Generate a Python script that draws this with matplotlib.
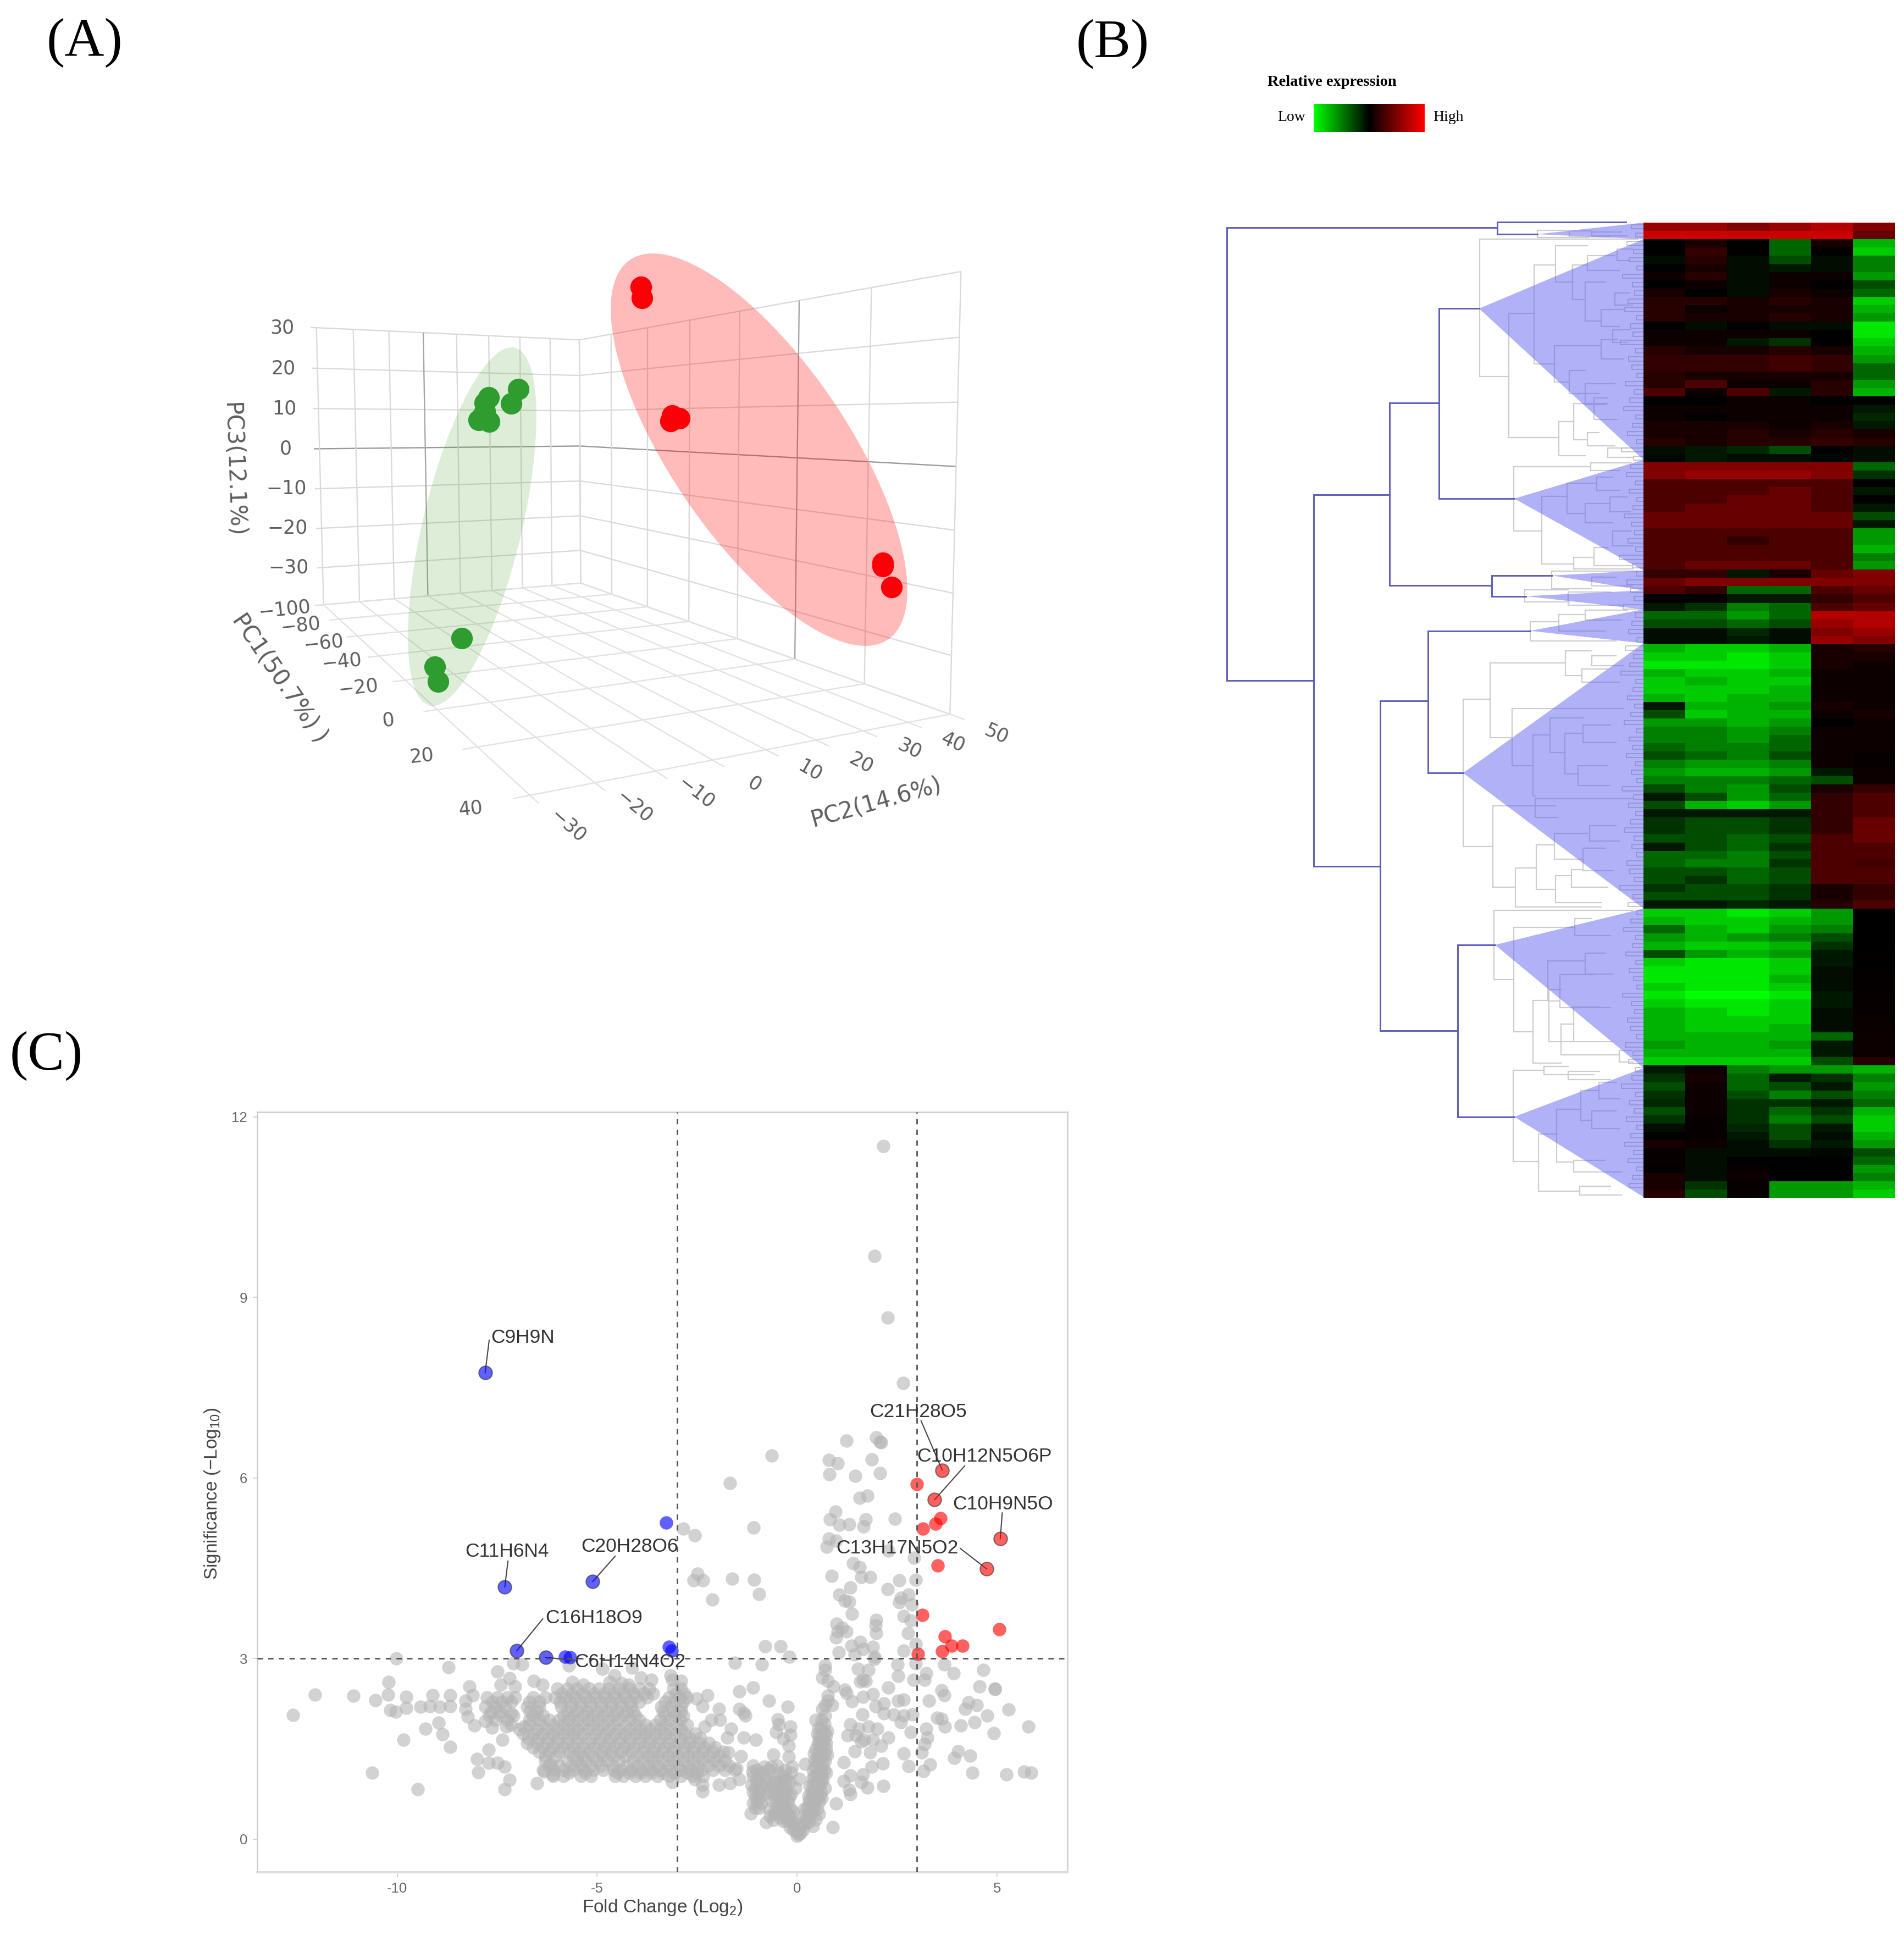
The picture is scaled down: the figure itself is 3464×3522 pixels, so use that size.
"""Three-panel figure: (A) PCA score plot, (B) clustered heat map, (C) volcano plot."""

import matplotlib

matplotlib.use("Agg")
import matplotlib.pyplot as plt
import numpy as np
from matplotlib.colors import LinearSegmentedColormap
from matplotlib.patches import Ellipse, Polygon

WIDTH, HEIGHT = 3464, 3522
DPI = 100
SANS = "Liberation Sans"
SERIF = "Liberation Serif"
PCA_FONT = "DejaVu Sans"

plt.rcParams["mathtext.fontset"] = "custom"
plt.rcParams["mathtext.rm"] = SANS
plt.rcParams["mathtext.default"] = "rm"

# ---- panel A: the box as (PC1, PC2, PC3) -> position on the picture plane
cam_world = [
    (-100, -30, -39.5), (-100, -30, 30), (-100, -30, 0),
    (-100, 50, -39.5), (-100, 50, 30), (-100, 50, 0),
    (40, 50, -39.5), (40, 50, 30), (40, 50, 0),
    (40, -30, -39.5),
]
cam_plane = [
    (591, 1100), (575, 597), (580, 815),
    (1055, 1062), (1055, 618), (1055, 811),
    (1729, 1299), (1749, 497), (1739, 845),
    (963, 1448),
]
pc1_ticks = [-100, -80, -60, -40, -20, 0, 20, 40]
pc2_ticks = [-30, -20, -10, 0, 10, 20, 30, 40, 50]
pc3_ticks = [-30, -20, -10, 0, 10, 20, 30]

# samples as read on the picture plane
green_x = [943, 930, 889, 882, 871, 890, 882, 840, 791, 797]
green_y = [708, 734, 723, 733, 764, 767, 748, 1161, 1213, 1240]
red_x = [1166, 1168, 1220, 1236, 1223, 1606, 1622, 1606]
red_y = [522, 542, 766, 761, 756, 1030, 1068, 1024]
red_ellipse = (1381, 818, 835, 322, 55.8)
green_ellipse = (859, 958, 669, 180, -76.6)

# ---- panel B: heat map rows, one named block per cluster
heat_top = [
    [6, 6, 5, 6, 7, 5],
    [8, 8, 8, 8, 8, 4],
]
heat_dark_green_end = [
    [0, 1, 0, -4, 1, -7],
    [0, 2, 0, -4, 0, -8],
    [-.5, 1.5, -.5, -3, -.5, -5],
    [0, 1, -.5, -1, -.5, -5],
    [.5, 1.5, -.5, .5, .5, -6],
    [0, .5, -.5, .5, 0, -3],
    [1, 0, -.5, 1, .5, -4],
    [1.5, 1.5, 1, 1.5, 1, -8],
    [1.5, .5, 1, 1, 1, -7],
    [1.5, 1, 1, 1.5, 1, -6],
    [0, -.5, 0, -.5, -.5, -9],
    [.5, .5, .5, .5, 0, -9],
    [.5, .5, -1, -2, 0, -8],
    [1.5, 1, 1, 1.5, 1, -7],
    [2, 2, 2, 2.5, 2, -6],
    [2, 2, 2, 2.5, 2, -4],
    [1.5, 1, 1, 1, 1, -4],
    [1.5, 3, .5, .5, 1.5, -6],
    [3, .5, 3, -1, 1.5, -7],
]
heat_black = [
    [0, 0, .5, .5, 0, 0],
    [.5, .5, .5, .5, .5, -1],
    [.5, 0, .5, .5, .5, -1.5],
    [1, 1, 1, .5, 1, -1],
    [1, 1, 1.5, 1, 1.5, 1],
    [1.5, 1, 1.5, 1.5, 2, 1.5],
    [-.5, -1, -1.5, -3, 0, -.5],
    [-.3, -1, -.5, -.5, -.3, -.5],
]
heat_dark_red = [
    [5, 5, 5, 5, 5, -4],
    [5, 6, 6, 6, 5, -2],
    [3, 3, 3, 3, 3, 0],
    [3, 3, 3, 4, 3, -1],
    [3, 3, 4, 4, 3, 0],
    [3, 4, 4, 4, 3, -1],
    [4, 4, 4, 4, 4, -3],
    [4, 4, 4, 4, 4, -1],
    [3, 3, 3, 3, 3, -6],
    [3, 3, 2, 3, 3, -6],
    [3, 3, 3, 3, 3, -7],
    [3, 3, 3, 3, 3, -5],
    [3, 4, 4, 4, 3, -6],
]
heat_red_blobs = [
    [2, 2, -1, 1, 4, 5],
    [4, 5, 5, 5, 5, 5],
    [3, 2, -4, -4, 3, 4],
    [0, 0, -1, -1, 2, 3],
    [-1, -2, -5, -4, 3, 4],
]
heat_green_red = [
    [-4, -4, -6, -4, 7, 7],
    [-3, -3, -4, -3, 6, 7],
    [-.5, -.5, -1.5, -.5, 5, 6],
    [-.5, -.5, -1, -.5, 6, 5],
]
heat_bright = [
    [-7, -8, -8, -7, 1, 1.5],
    [-8, -8, -9, -8, 1, 1],
    [-9, -9, -9, -8, 1, .5],
    [-7, -8, -8, -7, .5, .5],
    [-8, -7, -8, -8, .5, .5],
    [-8, -8, -8, -7, .5, .5],
    [-7, -8, -7, -7, .5, .5],
]
heat_mixed = [
    [-1, -7, -7, -6, 1, .5],
    [-3, -8, -7, -7, .5, 1],
    [-6, -6, -7, -6, 0, .5],
    [-5, -5, -6, -5, .5, .5],
    [-5, -5, -6, -4, .5, .5],
    [-4, -5, -5, -4, .5, .5],
    [-3, -4, -5, -3, .5, .3],
    [-5, -6, -6, -5, .5, .3],
    [-6, -7, -7, -6, -1, .5],
    [-5, -5, -5, -4, -3, .5],
    [-3, -5, -6, -3, 1, 2],
    [-1, -3, -6, -4, 2, 3],
    [-3, -7, -8, -6, 2, 3],
    [-1, -1, -1, -1, 2, 3],
]
heat_dark_green = [
    [-2, -3, -3, -2, 2, 4],
    [-2, -3, -3, -2, 2, 4],
    [-3, -3, -4, -3, 3, 4],
    [-1, -3, -4, -2, 3, 3],
    [-4, -4, -5, -3, 3, 3],
    [-4, -5, -5, -2, 3, 2.5],
    [-3, -3, -4, -3, 3, 3],
    [-3, -2, -4, -3, 3, 3],
    [-2, -3, -3, -2, 1, 2],
    [-3, -3, -3, -2, 1, 2],
    [-1, -1, -1.5, -1, 1.5, 3],
]
heat_bright_2 = [
    [-8, -8, -9, -8, -6, 0],
    [-7, -8, -8, -7, -6, 0],
    [-4, -7, -8, -6, -5, 0],
    [-6, -7, -6, -5, -3, 0],
    [-7, -8, -8, -7, -2, 0],
    [-3, -6, -7, -6, -1, .2],
    [-8, -9, -9, -8, -1, 0],
    [-9, -9, -9, -8, -.5, .1],
    [-9, -9, -9, -7, -.5, .2],
    [-8, -9, -9, -8, -.5, .2],
    [-9, -10, -10, -9, -1, .3],
    [-8, -9, -9, -8, -1, .3],
    [-7, -8, -9, -8, -.5, .3],
    [-7, -8, -8, -8, -.5, .4],
    [-7, -8, -8, -7, -.5, .4],
    [-7, -7, -7, -7, -4, .5],
    [-6, -7, -7, -6, -1, .5],
    [-7, -7, -7, -7, -1, .5],
    [-8, -8, -8, -8, -3, 1.5],
]
heat_bottom = [
    [-1, .5, -5, -6, -6, -7],
    [-2, 1, -4, -1, -2, -5],
    [-3, .5, -4, -3, -1, -6],
    [-2, .5, -3, -5, -3, -5],
    [-1.5, .5, -2, -2, -1, -4],
    [-3, .5, -2, -4, -2, -7],
    [-2, .3, -2, -5, -3, -8],
    [-.5, .3, -1.5, -3, -1, -8],
    [0, .3, -1, -3, -.5, -7],
    [1, .5, -.5, -2, -1, -6],
    [.3, -.5, -.5, -.5, -.3, -3],
    [.3, -.5, 0, 0, 0, -4],
    [.2, -.5, .3, 0, 0, -6],
    [1, -.5, .5, 0, 0, -5],
    [1, -2, .3, -6, -6, -7],
    [1.5, -3, .3, -6, -6, -8],
]
heat_blocks = [
    heat_top, heat_dark_green_end, heat_black, heat_dark_red, heat_red_blobs,
    heat_green_red, heat_bright, heat_mixed, heat_dark_green, heat_bright_2,
    heat_bottom,
]

# dendrogram merges: (height, top row, bottom row, top arm reach, bottom arm reach)
tree_main = [
    (758, .57, 55.4, 266, 600),
    (266, -.07, 1.4, 32, 193),
    (600, 32.9, 77.9, 462, 479),
    (462, 21.8, 43.9, 372, 276),
    (372, 10.4, 33.4, 299, 235),
    (276, 42.7, 45.2, 167, 214),
    (479, 57.9, 97.8, 392, 338),
    (392, 49.4, 66.6, 206, 328),
    (338, 87.4, 108.2, 270, 235),
]
# collapsed clusters: (apex height, apex row, first row, last row)
tree_triangles = [
    (193, 1.4, 0, 2),
    (299, 10.4, 2, 28.7),
    (235, 33.4, 28.7, 42.1),
    (167, 42.7, 42.1, 44.5),
    (214, 45.2, 44.5, 46.8),
    (206, 49.4, 46.8, 50.9),
    (328, 66.6, 50.9, 83),
    (270, 87.4, 83, 102.3),
    (235, 108.2, 102.3, 117.9),
]
tree_sub_1 = [
    (298, 2.0, 18.6, 11, 245), (245, 11, 26, 199, 154), (199, 5.1, 17.1, 160, 162),
    (160, 2.8, 7.2, 102, 129), (162, 14.9, 19.3, 77, 135), (154, 24.1, 28.2, 127, 106),
    (127, 21.9, 26.3, 65, 102), (129, 5.1, 9.3, 102, 106), (106, 7.2, 11.9, 69, 77),
    (77, 10.5, 12.6, 36, 44), (135, 17.9, 20.7, 106, 81), (106, 19.5, 22, 52, 69),
    (90, 21.2, 23.8, 65, 48), (102, 25.4, 27, 81, 52), (65, 27.3, 28.4, 30, 19),
    (102, 4, 5.8, 52, 44), (77, 14.2, 16.5, 48, 36), (52, 8.5, 10, 25, 20),
    (56, 13, 14.5, 24, 30), (48, 3.2, 4.6, 20, 25),
]
tree_sub_2 = [
    (236, 29.5, 37.3, 96, 185), (185, 33.1, 41.3, 139, 127), (139, 31.5, 35.2, 85, 106),
    (96, 29.1, 30, 23, 44), (106, 34, 36.3, 61, 56), (85, 30.8, 32.4, 56, 44),
    (127, 40.5, 41.9, 90, 19), (90, 39.3, 41.5, 65, 19), (56, 37.3, 39.1, 23, 19),
    (61, 33.2, 35, 30, 24),
]
tree_sub_small = [
    (193, .9, 1.8, 135, 100), (135, 1.0, 1.7, 94, 60), (94, 1.1, 1.6, 40, 30),
    (167, 42.2, 44.3, 11, 94), (94, 42.9, 44, 50, 20),
    (216, 44.4, 45.9, 137, 135), (137, 44.7, 46.3, 60, 40),
    (206, 48.3, 50.6, 154, 50), (154, 47.4, 49.4, 106, 70), (106, 46.9, 48.1, 30, 40),
]
tree_sub_3 = [
    (328, 57.7, 75.5, 279, 274), (279, 53.3, 62.3, 142, 239), (142, 51.8, 54.8, 94, 112),
    (239, 58.8, 65.7, 36, 201), (201, 62, 69.4, 170, 197), (170, 59.9, 64.1, 110, 143),
    (197, 69.7, 72, 19, 156), (143, 61.8, 66.7, 110, 119), (110, 60.8, 62.9, 60, 50),
    (119, 65.7, 68.1, 65, 60), (274, 70.6, 80.4, 160, 233), (233, 78.1, 82.8, 195, 77),
    (195, 75.3, 80.7, 162, 160), (160, 79, 82.3, 131, 77), (162, 73.9, 77, 102, 110),
    (98, 72.98, 74.8, 50, 44), (131, 78.3, 80.4, 110, 65), (110, 75.7, 78.4, 70, 56),
    (94, 52.4, 53.6, 50, 36), (112, 54, 55.6, 65, 44),
]
tree_sub_4 = [
    (272, 83.2, 91.6, 19, 236), (236, 85.3, 97.9, 125, 201), (125, 84.2, 86.3, 94, 60),
    (174, 89.3, 94.2, 106, 152), (201, 94.1, 101.7, 172, 150), (172, 92.8, 99.1, 150, 127),
    (150, 97, 100.7, 127, 44), (127, 94.9, 99.1, 81, 56), (106, 88.4, 90.9, 69, 56),
    (152, 91, 95, 90, 60), (44, 100.2, 101.6, 22, 18),
]
tree_sub_5 = [
    (237, 102.6, 113.6, 181, 191), (181, 102.1, 103.1, 137, 90), (137, 102.7, 103.7, 80, 60),
    (191, 110.3, 117.2, 158, 116), (158, 107.3, 113.7, 114, 127), (116, 116.6, 117.7, 60, 40),
    (127, 113.5, 114.9, 70, 40), (114, 105, 108.6, 81, 94), (94, 107.5, 109.6, 50, 44),
    (81, 104, 106, 50, 44),
]
leaf_heights = [
    22, 14, 30, 18, 26, 12, 38, 20, 16, 28, 34, 13, 24, 19, 42, 15, 27, 21, 12, 33,
    17, 25, 36, 14, 20, 29, 13, 40, 18, 23, 31, 15, 26, 12, 19, 35, 22, 16, 28, 14,
    44, 20, 13, 30, 24, 17, 37, 15, 21, 27, 12, 33, 18, 25, 41, 14, 19, 29, 16, 23,
    35, 13, 26, 20, 31, 15, 22, 12, 39, 18, 27, 14, 24, 34, 17, 21, 13, 30, 25, 16,
    43, 19, 28, 12, 23, 36, 15, 20, 32, 14, 26, 18, 12, 38, 22, 16, 29, 24, 13, 33,
    19, 27, 15, 21, 40, 14, 25, 17, 31, 12, 23, 35, 18, 28, 13, 20, 26,
]

# ---- panel C: volcano plot
volcano_upper = [
    (2.15, 11.51), (1.93, 9.69), (2.27, 8.66), (2.65, 7.58), (1.23, 6.62), (1.98, 6.67),
    (2.10, 6.59), (2.07, 6.60), (-.63, 6.37), (.79, 6.30), (1.02, 6.24), (1.87, 6.31),
    (.81, 6.06), (1.45, 6.03), (2.07, 6.08), (-1.68, 5.92), (1.56, 5.67), (1.75, 5.71),
    (.96, 5.44), (.82, 5.31), (1.72, 5.31), (2.45, 5.32), (1.05, 5.22), (1.30, 5.23),
    (1.66, 5.19), (-2.85, 5.16), (-2.56, 5.05), (-1.09, 5.18), (.79, 4.99), (.74, 4.86),
    (.98, 4.96), (1.40, 4.58), (1.56, 4.52), (2.28, 4.79), (2.93, 4.67), (.86, 4.37),
    (1.61, 4.35), (1.82, 4.35), (2.55, 4.30), (2.96, 4.31), (-2.49, 4.41), (-2.58, 4.30),
    (-2.35, 4.30), (-1.63, 4.33), (-1.07, 4.31), (1.33, 4.18), (2.27, 4.15), (-.95, 4.07),
    (-2.12, 3.98), (1.05, 4.06), (1.19, 3.96), (1.30, 3.94), (2.79, 4.06), (2.59, 4.01),
    (2.56, 3.93), (2.87, 3.90), (1.37, 3.74), (2.67, 3.71), (2.84, 3.63), (1.98, 3.64),
    (1.96, 3.55), (.99, 3.58), (1.12, 3.51), (1.23, 3.45), (.98, 3.35), (1.02, 3.45),
    (1.98, 3.42), (2.77, 3.42), (1.36, 3.21), (1.58, 3.28), (1.65, 3.16), (1.89, 3.19),
    (2.96, 3.24), (-.80, 3.20), (-.42, 3.20), (-.19, 3.03), (1.04, 3.10), (1.44, 3.07),
    (2.66, 3.13), (1.93, 3.03),
]
volcano_right = [
    (-1.56, 2.93), (-.88, 2.90), (3.68, 2.90), (3.91, 2.76), (4.66, 2.81), (.70, 2.88),
    (.70, 2.81), (.63, 2.68), (.77, 2.63), (.91, 2.54), (2.51, 2.90), (2.53, 2.71),
    (2.96, 2.92), (3.23, 2.76), (3.19, 2.65), (2.91, 2.65), (1.53, 2.83), (1.79, 2.81),
    (1.93, 2.99), (1.65, 2.65), (1.72, 2.63), (1.58, 2.62), (2.28, 2.52), (3.61, 2.47),
    (3.68, 2.39), (4.56, 2.54), (4.94, 2.50), (4.95, 2.49), (1.19, 2.48), (1.23, 2.43),
    (-1.44, 2.45), (-1.10, 2.52), (-.71, 2.30), (-.24, 2.20), (-2.52, 2.34), (-2.24, 2.39),
    (-2.37, 2.21), (-1.96, 2.16), (-1.44, 2.16), (-1.33, 2.10), (-1.30, 2.05), (.77, 2.30),
    (.70, 2.23), (.88, 2.23), (.63, 2.16), (.77, 2.38), (1.65, 2.36), (1.89, 2.41),
    (1.37, 2.29), (1.96, 2.21), (2.17, 2.25), (2.52, 2.30), (2.66, 2.32), (3.30, 2.30),
    (1.63, 2.07), (2.17, 2.09), (2.42, 2.07), (2.66, 2.05), (2.88, 2.07), (2.59, 1.94),
    (4.28, 2.27), (4.21, 2.16), (4.49, 2.23), (5.29, 2.15), (4.75, 2.05), (3.61, 2.0),
    (3.50, 2.02), (4.44, 1.94), (3.70, 1.87), (4.09, 1.89), (5.78, 1.87), (4.92, 1.76),
    (3.23, 1.83), (3.26, 1.69), (2.84, 1.78), (3.19, 1.58), (1.33, 1.91), (1.54, 1.83),
    (1.79, 1.87), (2.0, 1.83), (2.28, 1.69), (1.68, 1.65), (1.47, 1.72), (1.89, 1.65),
    (2.10, 1.55), (1.44, 1.46), (1.82, 1.44), (1.26, 1.72), (1.61, 1.62), (2.66, 1.42),
    (3.12, 1.44), (4.03, 1.46), (3.93, 1.35), (4.33, 1.39), (2.79, 1.21), (3.33, 1.24),
    (3.16, 1.13), (2.14, 1.26), (1.86, 1.2), (1.16, 1.28), (4.38, 1.10), (5.24, 1.08),
    (5.67, 1.12), (5.85, 1.10), (1.33, 1.06), (1.65, 1.08), (1.16, .97), (1.30, .82),
    (1.33, .75), (1.60, .95), (1.75, .86), (2.15, .88), (.98, .59), (.89, .2),
    (-.49, 1.99), (-.45, 1.91), (-.17, 1.87), (-.53, 1.78), (-.17, 1.73), (-.35, 1.67),
    (-.21, 1.55), (-.60, 1.40), (-.21, 1.37), (.46, 1.98), (-1.33, 1.69), (-1.03, 1.65),
    (-1.65, 1.83), (-2.31, 1.87), (-2.14, 1.98), (-1.93, 1.98), (-1.75, 1.69), (-1.40, 1.38),
    (-1.72, 1.44), (-1.51, 1.18), (-1.44, .99), (-1.68, .93), (-1.96, .90), (-2.37, .79),
    (-2.56, .99), (-3.12, .95),
]
volcano_v_shape = [
    (0, .05), (.08, .1), (.15, .15), (.1, .25), (.22, .27), (.3, .28), (.18, .4), (.3, .38),
    (.4, .45), (.47, .33), (.25, .52), (.38, .55), (.5, .5), (.3, .65), (.45, .68), (.55, .62),
    (.35, .78), (.48, .8), (.6, .78), (.4, .9), (.52, .95), (.62, .95), (.42, 1.05), (.55, 1.08),
    (.65, 1.0), (.45, 1.2), (.58, 1.22), (.68, 1.15), (.5, 1.35), (.62, 1.38), (.7, 1.3),
    (.47, 1.5), (.58, 1.52), (.72, 1.5), (.55, 1.62), (.68, 1.65), (.6, 1.72), (.72, 1.72),
    (.5, 1.75), (.6, 1.85), (.75, 1.8), (.62, 1.98), (.7, 2.05),
    (-.02, .12), (-.1, .15), (-.18, .2), (-.08, .28), (-.25, .3), (-.35, .3), (-.15, .38),
    (-.42, .35), (-.28, .45), (-.4, .48), (-.15, .5), (-.5, .55), (-.35, .6), (-.22, .62),
    (-.45, .7), (-.3, .75), (-.55, .68), (-.5, .85), (-.35, .9), (-.28, .82), (-1.16, .43),
    (-.77, .28), (-1.1, 1.22), (-1.0, 1.15), (-1.1, 1.05), (-.95, 1.05), (-1.0, .92),
    (-1.15, .9), (-.9, .9), (-1.1, .78), (-.98, .75), (-1.0, .62), (-1.1, .6), (-.9, .6),
    (-.85, .75), (-.78, 1.0), (-.72, 1.15), (-.6, 1.05), (-.45, 1.1), (-.3, 1.15), (-.15, 1.1),
    (-.72, .8), (-.6, .85), (-.65, .65), (-.55, .45), (-.7, .5), (-.15, .75), (-.05, .85),
    (-.25, 1.0), (.05, 1.0), (.2, 1.25),
]
volcano_v_dense = [
    (.04, .08), (.12, .22), (.2, .33), (.28, .42), (.35, .48), (.42, .58), (.18, .5), (.3, .58),
    (.38, .72), (.5, .72), (.58, .72), (.28, .72), (.42, .82), (.55, .88), (.32, .88), (.46, .95),
    (.6, 1.0), (.38, 1.0), (.5, 1.1), (.62, 1.1), (.4, 1.15), (.52, 1.28), (.65, 1.25), (.44, 1.3),
    (.55, 1.42), (.68, 1.42), (.42, 1.42), (.52, 1.58), (.65, 1.55), (.62, 1.62), (.55, 1.7),
    (.68, 1.78), (.54, 1.85), (.68, 1.92), (.72, 1.6), (.75, 1.4), (.72, 1.1), (.7, .85),
    (.62, .68), (.55, .42), (.4, .22),
    (-.06, .2), (-.14, .28), (-.22, .38), (-.32, .38), (-.1, .45), (-.3, .55), (-.42, .58),
    (-.55, .42), (-.2, .7), (-.38, .8), (-.48, .75), (-.6, .75), (-.42, .95), (-.55, .95),
    (-.3, .98), (-.68, .95), (-.82, .88), (-.92, .8), (-1.05, .85), (-1.05, .7), (-.95, .68),
    (-1.05, .52), (-.95, .52), (-1.12, 1.12), (-1.02, 1.0), (-.88, 1.1), (-.82, 1.2), (-.65, 1.2),
    (-.5, 1.22), (-.35, 1.05), (-.18, .95), (-.12, 1.2), (-.68, .38), (-.6, .32),
]
volcano_left = [
    (-10.02, 3.0), (-8.71, 2.86), (-7.5, 2.78), (-7.09, 2.92), (-6.88, 2.9), (-10.21, 2.61),
    (-8.2, 2.54), (-7.19, 2.67), (-7.41, 2.56), (-7.06, 2.54), (-6.58, 2.63), (-6.36, 2.56),
    (-5.7, 2.88), (-5.63, 2.61), (-4.87, 2.83), (-4.56, 2.72), (-4.69, 2.61), (-5.35, 2.56),
    (-4.12, 2.85), (-3.9, 2.68), (-3.64, 2.65), (-4.39, 2.59), (-4.21, 2.56), (-3.16, 2.72),
    (-2.9, 2.63), (-3.12, 2.65), (-12.05, 2.40), (-11.09, 2.38), (-10.54, 2.31), (-10.23, 2.40),
    (-9.78, 2.36), (-9.12, 2.39), (-8.68, 2.39), (-8.11, 2.39), (-12.6, 2.06), (-10.17, 2.14),
    (-10.04, 2.12), (-9.78, 2.18), (-9.42, 2.2), (-9.19, 2.21), (-8.93, 2.2), (-8.68, 2.21),
    (-8.29, 2.3), (-8.29, 2.16), (-9.29, 1.83), (-8.96, 1.93), (-8.87, 1.74), (-9.85, 1.65),
    (-8.68, 1.53), (-8.24, 2.03), (-8.07, 1.89), (-7.8, 1.96), (-7.63, 1.85), (-7.72, 1.49),
    (-7.37, 1.65), (-7.28, 1.87), (-7.15, 2.09), (-6.84, 1.87), (-8, 1.33), (-7.72, 1.27),
    (-7.5, 1.27), (-7.32, 1.2), (-7.98, 1.11), (-10.63, 1.10), (-7.19, .98), (-7.32, .83),
    (-9.49, .83), (-6.51, .93), (-6.33, 1.12), (-6.14, 1.24), (-6.1, 1.08), (-2.37, .9),
]
blob_levels = [2.5, 2.35, 2.2, 2.05, 1.9, 1.75, 1.6, 1.45, 1.3, 1.15, 1.05]
blob_rows = [
    [-6.0, -5.75, -5.5, -5.2, -4.95, -4.7, -4.45, -4.2, -3.95, -3.7, -3.1, -2.9],
    [-7.75, -7.5, -7.25, -7.05, -6.6, -6.3, -6.05, -5.8, -5.55, -5.3, -5.05, -4.8, -4.55, -4.3,
     -4.05, -3.75, -3.2, -2.95, -2.75],
    [-7.8, -7.55, -7.3, -6.75, -6.45, -5.9, -5.65, -5.4, -5.15, -4.9, -4.65, -4.4, -4.15, -3.4,
     -3.15, -2.9],
    [-7.7, -7.4, -7.1, -6.6, -6.35, -5.85, -5.6, -5.35, -5.1, -4.85, -4.6, -4.35, -4.05, -3.3,
     -3.05, -2.85],
    [-7.15, -6.7, -6.4, -6.1, -5.85, -5.6, -5.35, -5.1, -4.85, -4.6, -4.3, -4.05, -3.8, -3.55,
     -3.3, -3.0, -2.75],
    [-6.85, -6.6, -6.35, -6.1, -5.85, -5.6, -5.35, -5.05, -4.8, -4.55, -4.3, -4.05, -3.8, -3.55,
     -3.3, -3.05, -2.8, -2.55],
    [-6.75, -6.5, -6.25, -6, -5.75, -5.5, -5.2, -4.95, -4.7, -4.45, -4.2, -3.95, -3.7, -3.45,
     -3.2, -2.95, -2.7, -2.45, -2.2],
    [-6.45, -6.2, -5.95, -5.7, -5.45, -5.2, -4.9, -4.65, -4.4, -4.15, -3.85, -3.6, -3.35, -3.1,
     -2.85, -2.6, -2.35, -2.1, -1.85],
    [-6.3, -5.75, -5.5, -5.3, -5.0, -4.75, -4.45, -4.1, -3.85, -3.6, -3.35, -3.1, -2.85, -2.6,
     -2.35, -2.05, -1.8],
    [-6.35, -6.1, -5.85, -5.6, -5.35, -5.1, -4.85, -4.6, -4.4, -4.15, -3.9, -3.65, -3.4, -3.15,
     -2.9, -2.65, -2.4, -2.1, -1.8, -1.55],
    [-6.1, -5.85, -5.4, -5.15, -4.55, -4.35, -4.05, -3.8, -3.5, -3.2, -2.9, -2.6, -2.35],
]
blob_levels_mid = [2.42, 2.28, 2.12, 1.98, 1.82, 1.68, 1.52, 1.38, 1.22, 1.1]
blob_rows_mid = [
    [-5.88, -5.63, -5.35, -5.08, -4.82, -4.58, -4.33, -4.08, -3.82, -3.6, -3.02, -2.82],
    [-7.62, -7.38, -7.15, -6.7, -6.45, -5.92, -5.68, -5.42, -5.18, -4.92, -4.68, -4.42, -4.18,
     -3.95, -3.3, -3.08, -2.85],
    [-7.65, -7.42, -6.68, -6.5, -5.75, -5.5, -5.25, -5.0, -4.75, -4.5, -4.25, -4.1, -3.35, -3.1,
     -2.9],
    [-7.55, -7.25, -6.7, -6.45, -6.2, -5.95, -5.72, -5.48, -5.22, -4.98, -4.72, -4.48, -4.2,
     -3.95, -3.42, -3.18, -2.92],
    [-6.95, -6.52, -6.25, -5.98, -5.72, -5.48, -5.22, -4.98, -4.72, -4.45, -4.18, -3.92, -3.68,
     -3.42, -3.18, -2.9],
    [-6.72, -6.48, -6.22, -5.98, -5.72, -5.48, -5.2, -4.92, -4.68, -4.42, -4.18, -3.92, -3.68,
     -3.42, -3.18, -2.92, -2.68, -2.42],
    [-6.6, -6.35, -6.1, -5.85, -5.6, -5.35, -5.08, -4.82, -4.58, -4.32, -4.08, -3.82, -3.58,
     -3.32, -3.08, -2.82, -2.58, -2.32, -2.05],
    [-6.3, -6.05, -5.6, -5.35, -5.1, -4.85, -4.6, -4.3, -4.0, -3.72, -3.48, -3.22, -2.98, -2.72,
     -2.48, -2.2, -1.95],
    [-6.2, -5.95, -5.62, -5.4, -5.15, -4.9, -4.6, -4.25, -3.98, -3.72, -3.48, -3.22, -2.98,
     -2.72, -2.48, -2.22, -1.95, -1.7],
    [-5.7, -5.3, -4.5, -4.2, -3.92, -3.65, -3.35, -3.05, -2.75, -2.5],
]
# significant metabolites without a label
down_x = [-5.80, -5.68, -3.28, -3.21, -3.14]
down_y = [3.03, 3.02, 5.26, 3.19, 3.13]
up_x = [2.99, 3.58, 3.46, 3.15, 3.51, 3.13, 5.06, 3.69, 3.86, 4.14, 3.63, 3.02]
up_y = [5.90, 5.33, 5.24, 5.16, 4.55, 3.72, 3.49, 3.37, 3.21, 3.21, 3.12, 3.08]
# labelled ones: name, x, y, text x, text y, leader x, leader y
labelled_down = [
    ("C9H9N", -7.80, 7.75, -7.65, 8.33, -7.70, 8.29),
    ("C11H6N4", -7.31, 4.19, -8.30, 4.78, -7.23, 4.62),
    ("C20H28O6", -5.11, 4.28, -5.40, 4.86, -4.55, 4.70),
    ("C16H18O9", -7.01, 3.13, -6.30, 3.67, -6.36, 3.66),
    ("C6H14N4O2", -6.29, 3.02, -5.57, 2.94, -5.57, 2.97),
]
labelled_up = [
    ("C21H28O5", 3.63, 6.13, 1.82, 7.10, 3.10, 6.95),
    ("C10H12N5O6P", 3.44, 5.64, 3.00, 6.36, 4.19, 6.20),
    ("C10H9N5O", 5.08, 4.99, 3.89, 5.56, 5.13, 5.42),
    ("C13H17N5O2", 4.74, 4.49, 0.97, 4.83, 4.08, 4.83),
]


def add_axes_px(fig, left, top, right, bottom):
    return fig.add_axes(
        [left / WIDTH, 1 - bottom / HEIGHT, (right - left) / WIDTH, (bottom - top) / HEIGHT]
    )


def fig_text(fig, x, y, s, **kw):
    fig.text(x / WIDTH, 1 - y / HEIGHT, s, **kw)


def fit_camera(world, plane):
    rows = []
    for (X, Y, Z), (u, v) in zip(world, plane):
        X, Y, Z, u, v = X / 100, Y / 100, Z / 100, u / 1000, v / 1000
        rows.append([X, Y, Z, 1, 0, 0, 0, 0, -u * X, -u * Y, -u * Z, -u])
        rows.append([0, 0, 0, 0, X, Y, Z, 1, -v * X, -v * Y, -v * Z, -v])
    _, _, vt = np.linalg.svd(np.array(rows))
    return vt[-1].reshape(3, 4)


CAMERA = fit_camera(cam_world, cam_plane)


def project(pc1, pc2, pc3):
    h = CAMERA @ np.array([pc1 / 100, pc2 / 100, pc3 / 100, 1.0])
    return 1000 * h[0] / h[2], 1000 * h[1] / h[2]


def box_line(ax, p, q, color="#dedede", lw=1.7, zorder=1):
    a, b = project(*p), project(*q)
    ax.plot([a[0], b[0]], [a[1], b[1]], color=color, lw=lw, zorder=zorder, solid_capstyle="butt")


def draw_pca(fig):
    ax = add_axes_px(fig, 300, 400, 1900, 1650)
    ax.set_xlim(300, 1900)
    ax.set_ylim(1650, 400)
    ax.axis("off")
    z_low, z_high = -39.5, 30
    p1_low, p1_high = -100, 40
    p2_low, p2_high = -30, 50

    for z in pc3_ticks + [z_low]:
        color = "#9a9a9a" if z == 0 else "#dadada"
        box_line(ax, (p1_low, p2_low - 1.5, z), (p1_low, p2_high, z), color)
        box_line(ax, (p1_low, p2_high, z), (p1_high, p2_high, z), color)
    for p2 in pc2_ticks:
        color = "#a6a6a6" if p2 == 0 else "#dadada"
        box_line(ax, (p1_low, p2, z_low), (p1_low, p2, z_high), color)
        box_line(ax, (p1_low, p2, z_low), (p1_high + 3, p2, z_low), "#e2e2e2")
    for p1 in pc1_ticks:
        color = "#a6a6a6" if p1 == 0 else "#dadada"
        box_line(ax, (p1, p2_high, z_low), (p1, p2_high, z_high), color)
        box_line(ax, (p1, p2_high, z_low), (p1, p2_low - 2.5, z_low), "#e2e2e2")

    for cx, cy, w, h, ang, col, alpha in [
        (*red_ellipse, "#ff0000", 0.27),
        (*green_ellipse, "#4c9c2c", 0.18),
    ]:
        ax.add_patch(Ellipse((cx, cy), w, h, angle=ang, facecolor=col, edgecolor="none",
                             alpha=alpha, zorder=2))
    ax.scatter(green_x, green_y, s=800, color="#2f9c2f", linewidths=0, zorder=3)
    ax.scatter(red_x, red_y, s=800, color="#fb0007", linewidths=0, zorder=3)

    tick_kw = dict(family=PCA_FONT, fontsize=25, color="#5e5e5e", ha="center", va="center")
    for z in pc3_ticks:
        x, y = project(p1_low, p2_low, z)
        ax.text(x - 62, y, str(z).replace("-", "\u2212"), **tick_kw)
    for p1, dx, dy in zip(pc1_ticks, [-71, -70, -62, -68, -85, -89, -101, -108],
                          [8, 11, 13, 10, 14, 19, 16, 24]):
        x, y = project(p1, p2_low, z_low)
        ax.text(x + dx, y + dy, str(p1).replace("-", "\u2212"), rotation=6, **tick_kw)
    for p2, dx, dy, rot in zip(pc2_ticks, [70, 72, 74, 76, 80, 82, 84, 82, 84],
                               [56, 44, 40, 44, 38, 42, 32, 36, 36],
                               [-42, -40, -38, -32, -30, -28, -26, -24, -24]):
        x, y = project(p1_high, p2, z_low)
        ax.text(x + dx, y + dy, str(p2).replace("-", "\u2212"), rotation=rot, **tick_kw)

    title_kw = dict(family=PCA_FONT, fontsize=30, color="#5e5e5e", ha="center", va="center")
    ax.text(424, 855, "PC3(12.1%)", rotation=-88, **title_kw)
    ax.text(509, 1234, "PC1(50.7%) )", rotation=-55.5, **title_kw)
    ax.text(1594, 1460, "PC2(14.6%)", rotation=15.6, **title_kw)


def draw_tree_merges(ax, merges, color, lw, zorder):
    for h, top, bot, arm_top, arm_bot in merges:
        ax.plot([arm_top, h, h, arm_bot], [top, top, bot, bot], color=color, lw=lw,
                zorder=zorder, clip_on=False, solid_joinstyle="miter")


def draw_heatmap(fig):
    values = np.vstack([np.array(b, dtype=float) for b in heat_blocks])
    n_rows = values.shape[0]
    cmap = LinearSegmentedColormap.from_list("gkr", ["#00ff00", "#000000", "#ff0000"])

    ax_heat = add_axes_px(fig, 2990, 405, 3448, 2179)
    ax_heat.imshow(values, cmap=cmap, vmin=-10, vmax=10, aspect="auto",
                   interpolation="nearest")
    ax_heat.axis("off")

    ax_tree = add_axes_px(fig, 2200, 405, 2990, 2179)
    ax_tree.set_xlim(790, 0)
    ax_tree.set_ylim(n_rows, 0)
    ax_tree.axis("off")
    for merges in [tree_sub_1, tree_sub_2, tree_sub_small, tree_sub_3, tree_sub_4, tree_sub_5]:
        draw_tree_merges(ax_tree, merges, "#cdcdcd", 1.6, 1)
    for row, h in enumerate(leaf_heights):
        ax_tree.plot([0, h, h, 0], [row + .25, row + .25, row + .75, row + .75],
                     color="#bdbdbd", lw=1.2, zorder=1)
    for h, row, first, last in tree_triangles:
        ax_tree.add_patch(Polygon([(h, row), (0, first), (0, last)], closed=True,
                                  facecolor="#6464f2", edgecolor="none", alpha=0.5, zorder=2))
    draw_tree_merges(ax_tree, tree_main, "#5d5db9", 2.1, 3)

    # colour key
    ax_key = add_axes_px(fig, 2390, 189, 2592, 240)
    ax_key.imshow(np.linspace(-1, 1, 256)[None, :], cmap=cmap, aspect="auto")
    ax_key.axis("off")
    fig_text(fig, 2306, 150, "Relative expression", family=SERIF, fontweight="bold",
             fontsize=20.5, ha="left", va="center", color="black")
    fig_text(fig, 2375, 213, "Low", family=SERIF, fontsize=20, ha="right", va="center")
    fig_text(fig, 2607, 213, "High", family=SERIF, fontsize=20, ha="left", va="center")


def draw_volcano(fig):
    ax = add_axes_px(fig, 468, 2023, 1942, 3406)
    ax.set_xlim(-13.5, 6.76)
    ax.set_ylim(-0.55, 12.08)

    blob_pts = [(x, lv) for lv, row in zip(blob_levels, blob_rows) for x in row]
    blob_pts += [(x, lv) for lv, row in zip(blob_levels_mid, blob_rows_mid) for x in row]
    gray = np.array(
        volcano_upper + volcano_right + volcano_v_shape + volcano_v_dense + volcano_left + blob_pts
    )
    ax.scatter(gray[:, 0], gray[:, 1], s=310, color="#b4b4b4", alpha=0.6, linewidths=0, zorder=2)
    ax.scatter(down_x, down_y, s=310, color="#0000ff", alpha=0.62, linewidths=0, zorder=3)
    ax.scatter(up_x, up_y, s=310, color="#ff0000", alpha=0.62, linewidths=0, zorder=3)

    for group, color in [(labelled_down, "#0000ff"), (labelled_up, "#ff0000")]:
        for name, x, y, tx, ty, lx, ly in group:
            ax.plot([x, lx], [y, ly], color="#444444", lw=1.5, zorder=3)
            ax.scatter([x], [y], s=310, color=color, alpha=0.62, edgecolors="#333333",
                       linewidths=1.5, zorder=4)
            ax.text(tx, ty, name, family=SANS, fontsize=25.5, color="#333333", ha="left",
                    va="center", zorder=6)

    dash = dict(color="#555555", lw=2, dashes=(3.5, 3.5), zorder=5)
    ax.axvline(-3, **dash)
    ax.axvline(3, **dash)
    ax.axhline(3, **dash)

    ax.set_xticks([-10, -5, 0, 5])
    ax.set_xticklabels(["-10", "-5", "0", "5"])
    ax.set_yticks([0, 3, 6, 9, 12])
    ax.tick_params(colors="#666666", labelsize=18.5, length=6, width=1.2, color="#cccccc", pad=7)
    for lbl in ax.get_xticklabels() + ax.get_yticklabels():
        lbl.set_family(SANS)
    for side in ["top", "left", "right"]:
        ax.spines[side].set_color("#cccccc")
        ax.spines[side].set_linewidth(1.8)
    ax.spines["bottom"].set_color("#dddddd")
    ax.spines["bottom"].set_linewidth(3)

    fig_text(fig, 1205, 3471, r"Fold Change (Log$_{2}$)", family=SANS, fontsize=24,
             color="#444444", ha="center", va="center")
    fig_text(fig, 386, 2717, r"Significance ($-$Log$_{10}$)", family=SANS, fontsize=24,
             color="#444444", ha="center", va="center", rotation=90)


def main() -> None:
    fig = plt.figure(figsize=(WIDTH / DPI, HEIGHT / DPI), dpi=DPI, facecolor="white")
    draw_pca(fig)
    draw_heatmap(fig)
    draw_volcano(fig)
    label_kw = dict(family=SERIF, fontsize=72, color="black", ha="left", va="center")
    fig_text(fig, 85, 78, "(A)", **label_kw)
    fig_text(fig, 1958, 80, "(B)", **label_kw)
    fig_text(fig, 18, 1921, "(C)", **label_kw)
    fig.savefig("out.png", dpi=DPI, facecolor="white")
    plt.close(fig)


if __name__ == "__main__":
    main()
